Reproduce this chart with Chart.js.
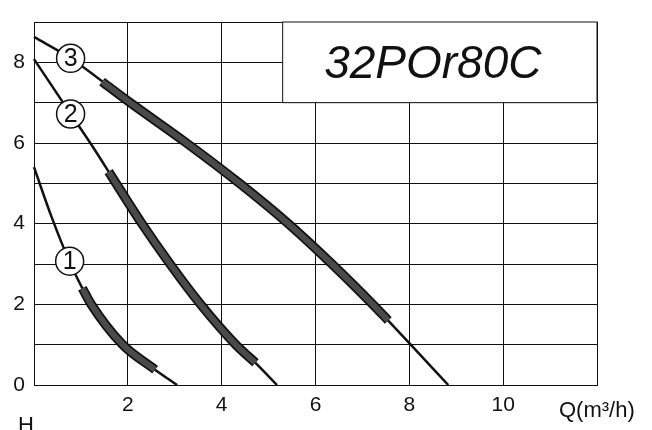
<!DOCTYPE html>
<html>
<head>
<meta charset="utf-8">
<script src="https://cdn.jsdelivr.net/npm/chart.js@4/dist/chart.umd.min.js"></script>
<style>
  html, body { margin: 0; padding: 0; background: #fff; }
  #wrap { width: 652px; height: 430px; position: relative; }
</style>
</head>
<body>
<div id="wrap"><canvas id="pumpChart"></canvas></div>
<script>
// Kennlinien Q (m3/h) / H (m)
const q1 = [0, 0.38, 0.76, 1.03, 1.22, 1.89, 2.58, 3.05];
const h1 = [5.4, 4.15, 3.05, 2.4, 2.0, 1.0, 0.38, 0];
const q2 = [0, 0.62, 1.2, 1.75, 2.3, 2.9, 3.55, 4.3, 4.72, 5.18];
const h2 = [8.08, 7, 6, 5, 4, 3, 2, 1, 0.55, 0];
const q3 = [0, 0.78, 2.05, 3.25, 4.38, 5.42, 6.35, 7.22, 8.03, 8.83];
const h3 = [8.63, 8.1, 7, 6, 5, 4, 3, 2, 1, 0];

// Arbeitsbereich (dicker Abschnitt)
const q1Work = [1.03, 1.22, 1.89, 2.58];
const h1Work = [2.4, 2.0, 1.0, 0.38];
const q2Work = [1.59, 2.3, 2.9, 3.55, 4.3, 4.72];
const h2Work = [5.29, 4, 3, 2, 1, 0.55];
const q3Work = [1.45, 2.05, 3.25, 4.38, 5.42, 6.35, 7.22, 7.55];
const h3Work = [7.52, 7, 6, 5, 4, 3, 2, 1.6];

// Kreis-Markierungen der Stufen
const stageNames = ['1', '2', '3'];
const stageQ = [0.76, 0.78, 0.78];
const stageH = [3.07, 6.72, 8.1];

const xTicks = [2, 4, 6, 8, 10];
const yTicks = [0, 2, 4, 6, 8];
const modelName = '32POr80C';

const pts = (qs, hs) => qs.map((q, i) => ({ x: q, y: hs[i] }));

function thin(qs, hs) {
    return {
        data: pts(qs, hs), borderColor: '#111', borderWidth: 2.5,
        pointRadius: 0, cubicInterpolationMode: 'monotone', order: 4, clip: false
    };
}
function workOuter(qs, hs) {
    return {
        data: pts(qs, hs), borderColor: '#111', borderWidth: 9.5, borderCapStyle: 'butt',
        pointRadius: 0, cubicInterpolationMode: 'monotone', order: 3, clip: false
    };
}
function workInner(qs, hs) {
    return {
        data: pts(qs, hs), borderColor: '#4a4a4a', borderWidth: 6, borderCapStyle: 'butt',
        pointRadius: 0, cubicInterpolationMode: 'monotone', order: 2, clip: false
    };
}

const extras = {
    id: 'extras',
    beforeDatasetsDraw(chart) {
        const { ctx, scales: { x, y } } = chart;
        // Typenfeld oben rechts
        const l = x.getPixelForValue(5.3), r = x.getPixelForValue(12);
        const t = y.getPixelForValue(9), b = y.getPixelForValue(7);
        ctx.save();
        ctx.fillStyle = '#fff';
        ctx.fillRect(l, t, r - l, b - t);
        ctx.strokeStyle = '#111';
        ctx.lineWidth = 1;
        ctx.strokeRect(l, t, r - l, b - t);
        ctx.fillStyle = '#111';
        ctx.font = 'italic 46px "Liberation Sans", Arial, sans-serif';
        ctx.textAlign = 'center';
        ctx.textBaseline = 'middle';
        ctx.fillText(modelName, x.getPixelForValue(8.5), y.getPixelForValue(7.92));
        ctx.restore();
    },
    afterDatasetsDraw(chart) {
        const { ctx, scales: { x, y } } = chart;
        ctx.save();
        ctx.fillStyle = '#111';
        ctx.textAlign = 'center';
        ctx.textBaseline = 'middle';
        ctx.font = '25px "Liberation Sans", Arial, sans-serif';
        stageNames.forEach((n, i) => {
            ctx.fillText(n, x.getPixelForValue(stageQ[i]), y.getPixelForValue(stageH[i]) + 1);
        });
        // Achsenbeschriftungen
        ctx.font = '22px "Liberation Sans", Arial, sans-serif';
        ctx.textAlign = 'left';
        ctx.fillText('Q(m³/h)', x.right - 38, y.bottom + 26);
        ctx.textBaseline = 'top';
        ctx.fillText('H', 18, y.bottom + 30);
        ctx.restore();
    }
};

new Chart(document.getElementById('pumpChart'), {
    type: 'line',
    data: {
        datasets: [
            thin(q1, h1), thin(q2, h2), thin(q3, h3),
            workOuter(q1Work, h1Work), workOuter(q2Work, h2Work), workOuter(q3Work, h3Work),
            workInner(q1Work, h1Work), workInner(q2Work, h2Work), workInner(q3Work, h3Work),
            {
                type: 'scatter',
                data: pts(stageQ, stageH),
                pointRadius: 14, pointBackgroundColor: '#fff',
                pointBorderColor: '#111', pointBorderWidth: 1.5,
                order: 0, clip: false
            }
        ]
    },
    options: {
        responsive: true,
        maintainAspectRatio: false,
        animation: false,
        layout: { padding: { left: 0, right: 55, top: 22, bottom: 0 } },
        plugins: { legend: { display: false }, tooltip: { enabled: false } },
        scales: {
            x: {
                type: 'linear', min: 0, max: 12,
                ticks: {
                    stepSize: 2, padding: 8, color: '#111',
                    font: { family: '"Liberation Sans", Arial, sans-serif', size: 21 },
                    callback: v => xTicks.includes(v) ? String(v) : ''
                },
                grid: { color: '#111', lineWidth: 1, drawTicks: false },
                border: { color: '#111' },
                afterFit: s => { s.height = 45; }
            },
            y: {
                type: 'linear', min: 0, max: 9,
                ticks: {
                    stepSize: 1, padding: 9, color: '#111',
                    font: { family: '"Liberation Sans", Arial, sans-serif', size: 21 },
                    callback: v => yTicks.includes(v) ? String(v) : ''
                },
                grid: { color: '#111', lineWidth: 1, drawTicks: false },
                border: { color: '#111' },
                afterFit: s => { s.width = 34; }
            }
        }
    },
    plugins: [extras]
});
</script>
</body>
</html>
